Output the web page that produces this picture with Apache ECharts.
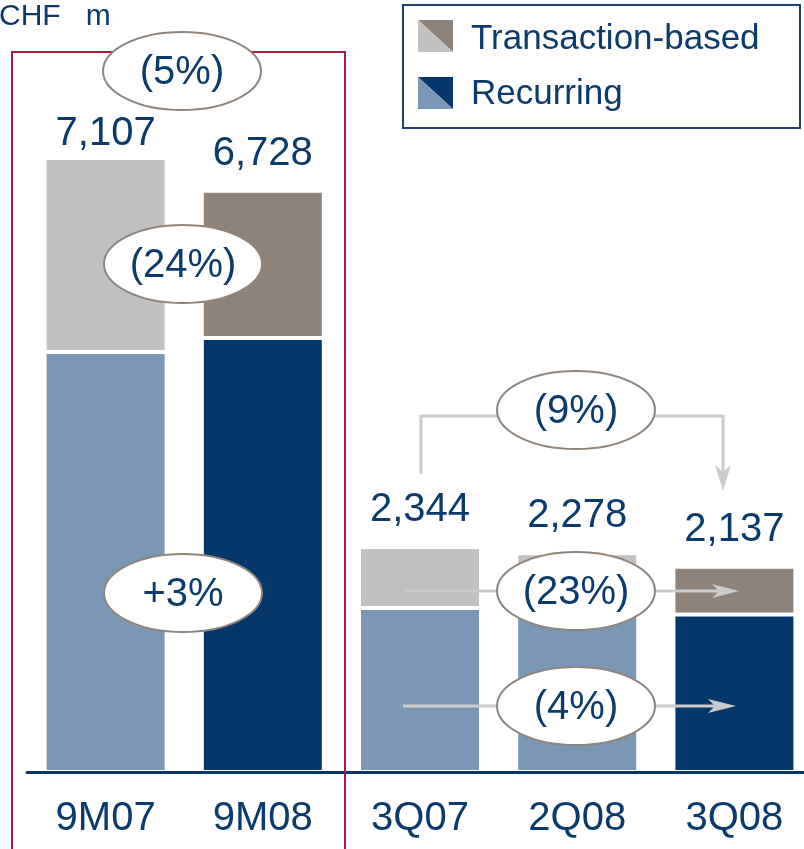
<!DOCTYPE html>
<html>
<head>
<meta charset="utf-8">
<script src="https://cdn.jsdelivr.net/npm/echarts@6/dist/echarts.min.js"></script>
<style>
  html, body { margin: 0; padding: 0; background: #fff; overflow: hidden; }
  /* a little wider than the window: the last bar's slot runs past the right edge */
  #chart { width: 813px; height: 849px; }
</style>
</head>
<body>
<div id="chart"></div>
<script>
const categories = ['9M07', '9M08', '3Q07', '2Q08', '3Q08']
const recurring = [4862, 5024, 1708, 1690, 1641]
const transactionBased = [2245, 1704, 636, 588, 496]
const totals = [7107, 6728, 2344, 2278, 2137]
const changeLabels = ['(5%)', '(24%)', '+3%', '(9%)', '(23%)', '(4%)']

const FONT = '"Liberation Sans", Arial, Helvetica, sans-serif'
const TEXT_NAVY = '#0b3a6c'
const ARROW_GREY = '#cbcbcb'
const OVAL_LINE = '#8f857c'
const LIGHT_BLUE = '#7a98b5'
const NAVY = '#04386a'
const LIGHT_GREY = '#c1c1c1'
const TAUPE = '#8d837a'

// first two bars are nine-month totals, the three quarters sit on their own scale
const isNineMonth = i => i < 2
const recurringColors = [LIGHT_BLUE, NAVY, LIGHT_BLUE, LIGHT_BLUE, NAVY]
const transactionColors = [LIGHT_GREY, TAUPE, LIGHT_GREY, LIGHT_GREY, TAUPE]
const labelGap = [4, 17, 17, 17, 17]

function barSeries (name, values, colors, nine, withLabel) {
  return {
    type: 'bar',
    name: name,
    stack: nine ? 'nineMonths' : 'quarters',
    yAxisIndex: nine ? 0 : 1,
    barWidth: 122,
    barGap: '-100%',
    silent: true,
    itemStyle: { borderColor: '#fff', borderWidth: 2 },
    label: withLabel ? {
      show: true,
      position: 'top',
      fontSize: 40,
      fontFamily: FONT,
      color: TEXT_NAVY,
      formatter: p => totals[p.dataIndex].toLocaleString('en-US')
    } : { show: false },
    data: values.map((v, i) => {
      if (isNineMonth(i) !== nine) return '-'
      const item = { value: v, itemStyle: { color: colors[i] } }
      if (withLabel) item.label = { distance: labelGap[i] }
      return item
    })
  }
}

function oval (cx, cy, text) {
  return [
    {
      type: 'ellipse', z: 30,
      shape: { cx: cx, cy: cy, rx: 79, ry: 39 },
      style: { fill: '#fff', stroke: OVAL_LINE, lineWidth: 2 }
    },
    {
      type: 'text', z: 31, x: cx, y: cy + 2,
      style: { text: text, fill: TEXT_NAVY, font: '40px ' + FONT, align: 'center', verticalAlign: 'middle' }
    }
  ]
}

function arrowLine (points, head) {
  return [
    { type: 'polyline', z: 25, shape: { points: points }, style: { stroke: ARROW_GREY, lineWidth: 3, fill: null } },
    { type: 'polygon', z: 25, shape: { points: head }, style: { fill: ARROW_GREY } }
  ]
}

const chart = echarts.init(document.getElementById('chart'))

chart.setOption({
  animation: false,
  grid: { left: 27, right: 0, top: 52, bottom: 77 },
  xAxis: {
    type: 'category',
    data: categories,
    z: 10,
    axisTick: { show: false },
    axisLine: { lineStyle: { color: '#0b3768', width: 3 } },
    axisLabel: { fontSize: 40, fontFamily: FONT, color: TEXT_NAVY, margin: 27 }
  },
  yAxis: [
    { type: 'value', min: 0, max: 8334, show: false },
    { type: 'value', min: 0, max: 7500, show: false }
  ],
  series: [
    barSeries('Recurring', recurring, recurringColors, true, false),
    barSeries('Transaction-based', transactionBased, transactionColors, true, true),
    barSeries('Recurring', recurring, recurringColors, false, false),
    barSeries('Transaction-based', transactionBased, transactionColors, false, true)
  ],
  graphic: [
    {
      type: 'text', z: 20, x: -1, y: 17,
      style: { text: 'CHF   m', fill: TEXT_NAVY, font: '30px ' + FONT, verticalAlign: 'middle' }
    },
    {
      type: 'rect', z: 20,
      shape: { x: 12, y: 52, width: 333, height: 830 },
      style: { fill: null, stroke: '#a71b3f', lineWidth: 2 }
    },
    // legend
    {
      type: 'rect', z: 20,
      shape: { x: 403, y: 5, width: 397, height: 123 },
      style: { fill: '#fff', stroke: '#1c4272', lineWidth: 2 }
    },
    { type: 'polygon', z: 21, shape: { points: [[418, 20], [453, 20], [453, 52]] }, style: { fill: TAUPE } },
    { type: 'polygon', z: 21, shape: { points: [[418, 20], [453, 52], [418, 52]] }, style: { fill: LIGHT_GREY } },
    { type: 'polygon', z: 21, shape: { points: [[418, 77], [453, 77], [453, 109]] }, style: { fill: NAVY } },
    { type: 'polygon', z: 21, shape: { points: [[418, 77], [453, 109], [418, 109]] }, style: { fill: LIGHT_BLUE } },
    {
      type: 'text', z: 21, x: 471, y: 39,
      style: { text: 'Transaction-based', fill: TEXT_NAVY, font: '35px ' + FONT, verticalAlign: 'middle' }
    },
    {
      type: 'text', z: 21, x: 471, y: 94,
      style: { text: 'Recurring', fill: TEXT_NAVY, font: '35px ' + FONT, verticalAlign: 'middle' }
    },
    // change arrows on the quarterly bars
    ...arrowLine([[421, 474], [421, 416], [723, 416], [723, 474]], [[723, 491], [715, 465], [723, 472], [731, 465]]),
    ...arrowLine([[405, 591], [720, 591]], [[739, 591], [712, 584], [719, 591], [712, 598]]),
    ...arrowLine([[403, 706], [716, 706]], [[736, 706], [708, 699], [715, 706], [708, 713]]),
    // change ovals
    ...oval(182, 71, changeLabels[0]),
    ...oval(183, 264, changeLabels[1]),
    ...oval(183, 593, changeLabels[2]),
    ...oval(576, 410, changeLabels[3]),
    ...oval(576, 591, changeLabels[4]),
    ...oval(576, 706, changeLabels[5])
  ]
})
</script>
</body>
</html>
